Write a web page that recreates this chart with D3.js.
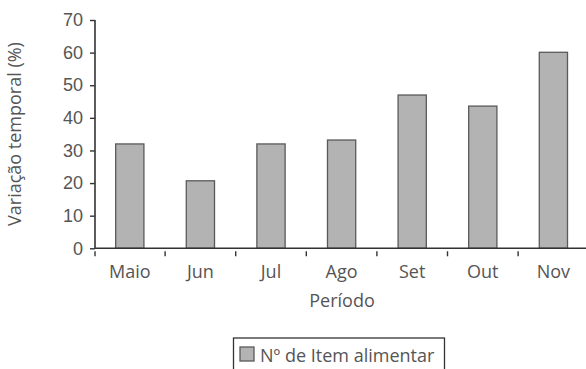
<!DOCTYPE html>
<html>
<head>
<meta charset="utf-8">
<script src="https://cdn.jsdelivr.net/npm/d3@7"></script>
<style>
  html, body { margin: 0; padding: 0; background: #fff; }
  svg { display: block; font-family: "Open Sans", "Noto Sans", sans-serif; }
</style>
</head>
<body>
<svg id="chart" width="586" height="369"></svg>
<script>
// Monthly temporal variation (%)
const months = ["Maio", "Jun", "Jul", "Ago", "Set", "Out", "Nov"];
const variation = [32, 20.7, 32, 33.2, 47, 43.6, 60.1];
const yTicks = [0, 10, 20, 30, 40, 50, 60, 70];
const seriesName = "Nº de Item alimentar";

const svg = d3.select("#chart");
const textColor = "#555";
const axisColor = "#333";
const barFill = "#b3b3b3";
const barStroke = "#5a5a5a";
const fs = "18px";

const x = d3.scaleBand().domain(months).range([94.5, 588.7]).padding(0);
const y = d3.scaleLinear().domain([0, 70]).range([248.3, 20]);

const barW = x.bandwidth() * 0.4;

// bars
svg.append("g").selectAll("rect")
  .data(months.map((m, i) => ({ m, v: variation[i] })))
  .join("rect")
  .attr("x", d => x(d.m) + x.bandwidth() / 2 - barW / 2)
  .attr("y", d => y(d.v))
  .attr("width", barW)
  .attr("height", d => y(0) - y(d.v))
  .attr("fill", barFill)
  .attr("stroke", barStroke)
  .attr("stroke-width", 1.3);

// y axis
const yAxis = svg.append("g")
  .attr("transform", `translate(95,0)`)
  .call(d3.axisLeft(y).tickValues(yTicks).tickSize(5).tickPadding(7));
yAxis.select(".domain").attr("stroke", axisColor).attr("stroke-width", 1.6).attr("d", `M0,${y(70)}V${y(0)}`);
yAxis.selectAll(".tick line").attr("stroke", axisColor).attr("stroke-width", 1.4);
yAxis.selectAll(".tick text").attr("fill", textColor).style("font-size", fs);

// x axis: ticks sit at the band boundaries, labels at band centres
const xAxisG = svg.append("g").attr("transform", `translate(0,${y(0)})`);
xAxisG.append("line")
  .attr("x1", 95).attr("x2", 586)
  .attr("stroke", axisColor).attr("stroke-width", 1.6);
const bounds = months.map(m => x(m)).concat([x(months[months.length - 1]) + x.bandwidth()]);
xAxisG.selectAll("line.tk").data(bounds).join("line")
  .attr("class", "tk")
  .attr("x1", d => Math.max(d, 95)).attr("x2", d => Math.max(d, 95))
  .attr("y1", 3).attr("y2", 8)
  .attr("stroke", axisColor).attr("stroke-width", 1.4);
xAxisG.selectAll("text").data(months).join("text")
  .attr("x", d => x(d) + x.bandwidth() / 2)
  .attr("y", 30)
  .attr("text-anchor", "middle")
  .attr("fill", textColor)
  .style("font-size", fs)
  .text(d => d);

// axis titles
svg.append("text")
  .attr("x", 342).attr("y", 307)
  .attr("text-anchor", "middle")
  .attr("fill", textColor)
  .style("font-size", fs)
  .text("Período");

svg.append("text")
  .attr("transform", "translate(21,134) rotate(-90)")
  .attr("text-anchor", "middle")
  .attr("fill", textColor)
  .style("font-size", fs)
  .text("Variação temporal (%)");

// legend
const lg = svg.append("g");
lg.append("rect")
  .attr("x", 233.5).attr("y", 338)
  .attr("width", 211).attr("height", 40)
  .attr("fill", "none").attr("stroke", axisColor).attr("stroke-width", 1.3);
lg.append("rect")
  .attr("x", 240).attr("y", 347)
  .attr("width", 14).attr("height", 14)
  .attr("fill", barFill).attr("stroke", barStroke).attr("stroke-width", 1.3);
lg.append("text")
  .attr("x", 260).attr("y", 362)
  .attr("fill", textColor)
  .style("font-size", fs)
  .text(seriesName);
</script>
</body>
</html>
